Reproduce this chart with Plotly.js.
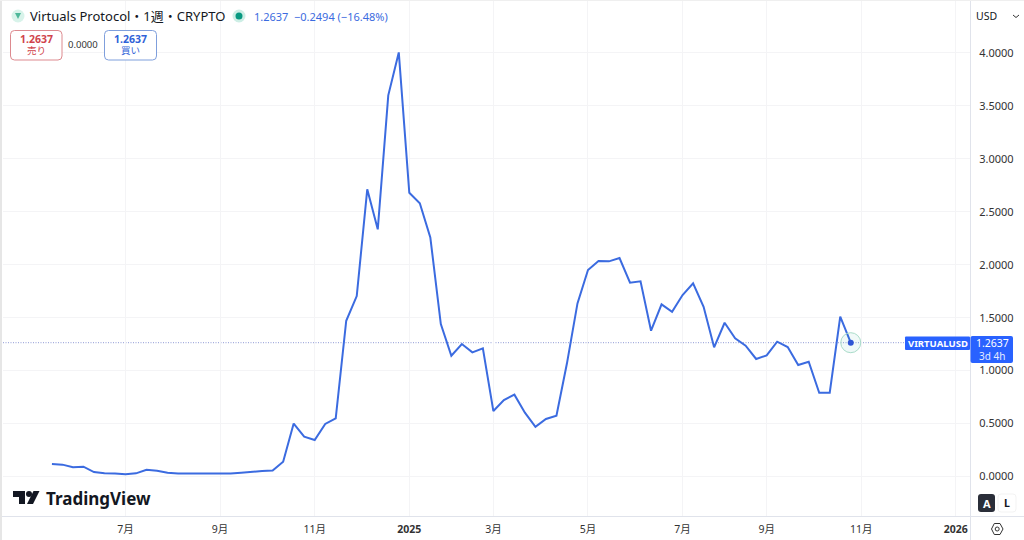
<!DOCTYPE html>
<html><head><meta charset="utf-8">
<script src="https://cdn.plot.ly/plotly-3.0.1.min.js"></script>
<style>html,body{margin:0;padding:0;background:#fff}#c{width:1024px;height:540px}</style>
</head><body><div id="c"></div><script>
const weeks = ["2024-05-13","2024-05-20","2024-05-27","2024-06-03","2024-06-10","2024-06-17","2024-06-24","2024-07-01","2024-07-08","2024-07-15","2024-07-22","2024-07-29","2024-08-05","2024-08-12","2024-08-19","2024-08-26","2024-09-02","2024-09-09","2024-09-16","2024-09-23","2024-09-30","2024-10-07","2024-10-14","2024-10-21","2024-10-28","2024-11-04","2024-11-11","2024-11-18","2024-11-25","2024-12-02","2024-12-09","2024-12-16","2024-12-23","2024-12-30","2025-01-06","2025-01-13","2025-01-20","2025-01-27","2025-02-03","2025-02-10","2025-02-17","2025-02-24","2025-03-03","2025-03-10","2025-03-17","2025-03-24","2025-03-31","2025-04-07","2025-04-14","2025-04-21","2025-04-28","2025-05-05","2025-05-12","2025-05-19","2025-05-26","2025-06-02","2025-06-09","2025-06-16","2025-06-23","2025-06-30","2025-07-07","2025-07-14","2025-07-21","2025-07-28","2025-08-04","2025-08-11","2025-08-18","2025-08-25","2025-09-01","2025-09-08","2025-09-15","2025-09-22","2025-09-29","2025-10-06","2025-10-13","2025-10-20","2025-10-27"];
const closes = [0.118,0.112,0.087,0.093,0.042,0.030,0.028,0.022,0.030,0.064,0.055,0.036,0.028,0.028,0.034,0.032,0.028,0.028,0.036,0.046,0.052,0.056,0.14,0.50,0.376,0.345,0.496,0.55,1.471,1.704,2.712,2.334,3.60,4.005,2.68,2.58,2.258,1.44,1.14,1.251,1.172,1.21,0.618,0.722,0.773,0.603,0.47,0.543,0.574,1.069,1.635,1.95,2.035,2.032,2.063,1.83,1.843,1.377,1.626,1.556,1.714,1.824,1.603,1.22,1.452,1.305,1.235,1.11,1.144,1.273,1.223,1.053,1.084,0.791,0.791,1.509,1.2637];
const xTickDates = ["2024-07-01","2024-09-02","2024-11-04","2025-01-06","2025-03-03","2025-05-05","2025-07-07","2025-09-01","2025-11-03","2026-01-05"];
const xTickLabels = ["7月","9月","11月","<b>2025</b>","3月","5月","7月","9月","11月","<b>2026</b>"];
const priceTicks = [0,0.5,1,1.5,2,2.5,3,3.5,4];
const lastPrice = 1.2637;

const W=1024,H=540,L=3,R=970,T=0,B=516;
const px=x=>(x-L)/(R-L), py=y=>(B-y)/(B-T);
const FONT='"Noto Sans","Noto Sans CJK JP",sans-serif';
const BLUE='#3b6be0', TV='#2962ff';
function note(x,y,text,size,color,anchor){return {xref:'paper',yref:'paper',x:px(x),y:py(y),text:text,showarrow:false,xanchor:anchor||'center',yanchor:'middle',font:{family:FONT,size:size,color:color},borderpad:0,borderwidth:0};}
function rrect(x0,y0,x1,y1,r,line,fill,w){
  const X=px,Y=py;
  const p=`M${X(x0+r)},${Y(y0)} L${X(x1-r)},${Y(y0)} Q${X(x1)},${Y(y0)} ${X(x1)},${Y(y0+r)} L${X(x1)},${Y(y1-r)} Q${X(x1)},${Y(y1)} ${X(x1-r)},${Y(y1)} L${X(x0+r)},${Y(y1)} Q${X(x0)},${Y(y1)} ${X(x0)},${Y(y1-r)} L${X(x0)},${Y(y0+r)} Q${X(x0)},${Y(y0)} ${X(x0+r)},${Y(y0)} Z`;
  return {type:'path',xref:'paper',yref:'paper',path:p,line:{color:line,width:w===undefined?1:w},fillcolor:fill,layer:'above'};
}
function circ(cx,cy,r,line,fill,w){return {type:'circle',xref:'paper',yref:'paper',x0:px(cx-r),x1:px(cx+r),y0:py(cy+r),y1:py(cy-r),line:{color:line,width:w||0},fillcolor:fill,layer:'above'};}
function poly(pts,fill,line,w){return {type:'path',xref:'paper',yref:'paper',path:'M'+pts.map(p=>px(p[0])+','+py(p[1])).join(' L')+(fill?' Z':''),fillcolor:fill||'rgba(0,0,0,0)',line:{color:line||'rgba(0,0,0,0)',width:w||0},layer:'above'};}
function seg(x0,y0,x1,y1,color,w){return {type:'line',xref:'paper',yref:'paper',x0:px(x0),x1:px(x1),y0:py(y0),y1:py(y1),line:{color:color,width:w||1},layer:'above'};}

const shapes=[
  {type:'line',xref:'paper',yref:'y',x0:0,x1:px(905),y0:lastPrice,y1:lastPrice,line:{color:'#8f9bd6',width:1,dash:'1px,1.5px'},layer:'below'},
  seg(970.5,0,970.5,540,'#e0e3eb',1),
  seg(0,516.5,1024,516.5,'#e0e3eb',1),
  seg(1,0,1,540,'#e6e6e6',2),
  seg(0,0.5,1024,0.5,'#efefef',1),
  // value tags
  rrect(905,336.5,970,350,1,TV,TV,0),
  rrect(970.5,336,1013,363,2,TV,TV,0),
  // header icons
  circ(18,16,6.5,'#d8f3ea','#d8f3ea'),
  poly([[15,13],[21,13],[18,19]],'#4fb89a'),
  circ(239,16,6.5,'#cdeee5','#cdeee5'),
  circ(239,16,3.5,'#089981','#089981'),
  // order boxes
  rrect(10.5,30.5,62,60,4,'#dd8a8f','#ffffff'),
  rrect(104.5,30.5,156.5,60,4,'#7f9fdc','#ffffff'),
  // currency selector chevron
  poly([[1013,15],[1016,17.5],[1019,15]],null,'#333',1),
  // scale buttons
  rrect(978,494,995,512,3,'#2a2e39','#2a2e39',0),
  rrect(998,494,1016,512,3,'#f3f3f3','#ffffff',1),
  // settings hexagon
  poly([[991.5,529],[994.3,523.5],[1000,523.5],[1003,529],[1000,534.5],[994.3,534.5]],'rgba(255,255,255,0)','#333',1),
  circ(997.2,529,2,'#333','rgba(255,255,255,0)',1),
  // TradingView mark
  poly([[13,491],[25,491],[25,504],[19,504],[19,497],[13,497]],'#131722'),
  circ(29,494,3,'#131722','#131722'),
  poly([[33.5,491],[39.5,491],[33,504],[27,504]],'#131722')
];
const annotations=[
  note(30,16,'Virtuals Protocol・1週・CRYPTO',13,'#131722','left'),
  note(254,16,'1.2637',11,'#3b6be0','left'),
  note(294,16,'−0.2494 (−16.48%)',11,'#3b6be0','left'),
  note(36,39,'<b>1.2637</b>',10.5,'#d0444c'),
  note(36,51,'売り',9.5,'#d0444c'),
  note(83,44.5,'0.0000',9.5,'#333333'),
  note(130,39,'<b>1.2637</b>',10.5,'#2f62d8'),
  note(130,51,'買い',9.5,'#2f62d8'),
  note(986,16,'USD',10.5,'#131722'),
  note(937.5,343,'<b>VIRTUALUSD</b>',9.5,'#ffffff'),
  note(992,343,'1.2637',10.5,'#ffffff'),
  note(992,356,'3d 4h',10,'#e4ebff'),
  note(986.5,503,'<b>A</b>',11,'#ffffff'),
  note(1007,503,'<b>L</b>',10.5,'#131722'),
  note(46,498,'<b>TradingView</b>',17,'#131722','left')
];
const data=[
  {type:'scatter',mode:'lines',x:weeks,y:closes,line:{color:BLUE,width:2,shape:'linear'},hoverinfo:'skip'},
  {type:'scatter',mode:'markers',x:[weeks[weeks.length-1]],y:[lastPrice],marker:{size:20,color:'rgba(8,153,129,0.06)',line:{color:'#a9dcc9',width:1}},hoverinfo:'skip'},
  {type:'scatter',mode:'markers',x:[weeks[weeks.length-1]],y:[lastPrice],marker:{size:6,color:'#2f55d4'},hoverinfo:'skip'}
];
const layout={
  width:W,height:H,showlegend:false,paper_bgcolor:'#fff',plot_bgcolor:'#fff',
  margin:{l:L,r:W-R,t:T,b:H-B,pad:0},
  font:{family:FONT,size:11,color:'#131722'},
  xaxis:{type:'date',range:['2024-04-10 10:00','2026-01-14 10:00'],tickmode:'array',tickvals:xTickDates,ticktext:xTickLabels,
    showgrid:true,gridcolor:'#f4f4f6',gridwidth:1,zeroline:false,showline:false,ticks:'outside',ticklen:3,tickcolor:'rgba(0,0,0,0)',tickfont:{size:10.5,color:'#333'},tickangle:0},
  yaxis:{side:'right',range:[-0.373,4.5],tickmode:'array',tickvals:priceTicks,tickformat:'.4f',
    showgrid:true,gridcolor:'#f4f4f6',gridwidth:1,zeroline:false,showline:false,ticks:'outside',ticklen:6,tickcolor:'rgba(0,0,0,0)',tickfont:{size:11,color:'#333'}},
  shapes:shapes,annotations:annotations
};
Plotly.newPlot('c',data,layout,{displayModeBar:false,staticPlot:true});
</script></body></html>
